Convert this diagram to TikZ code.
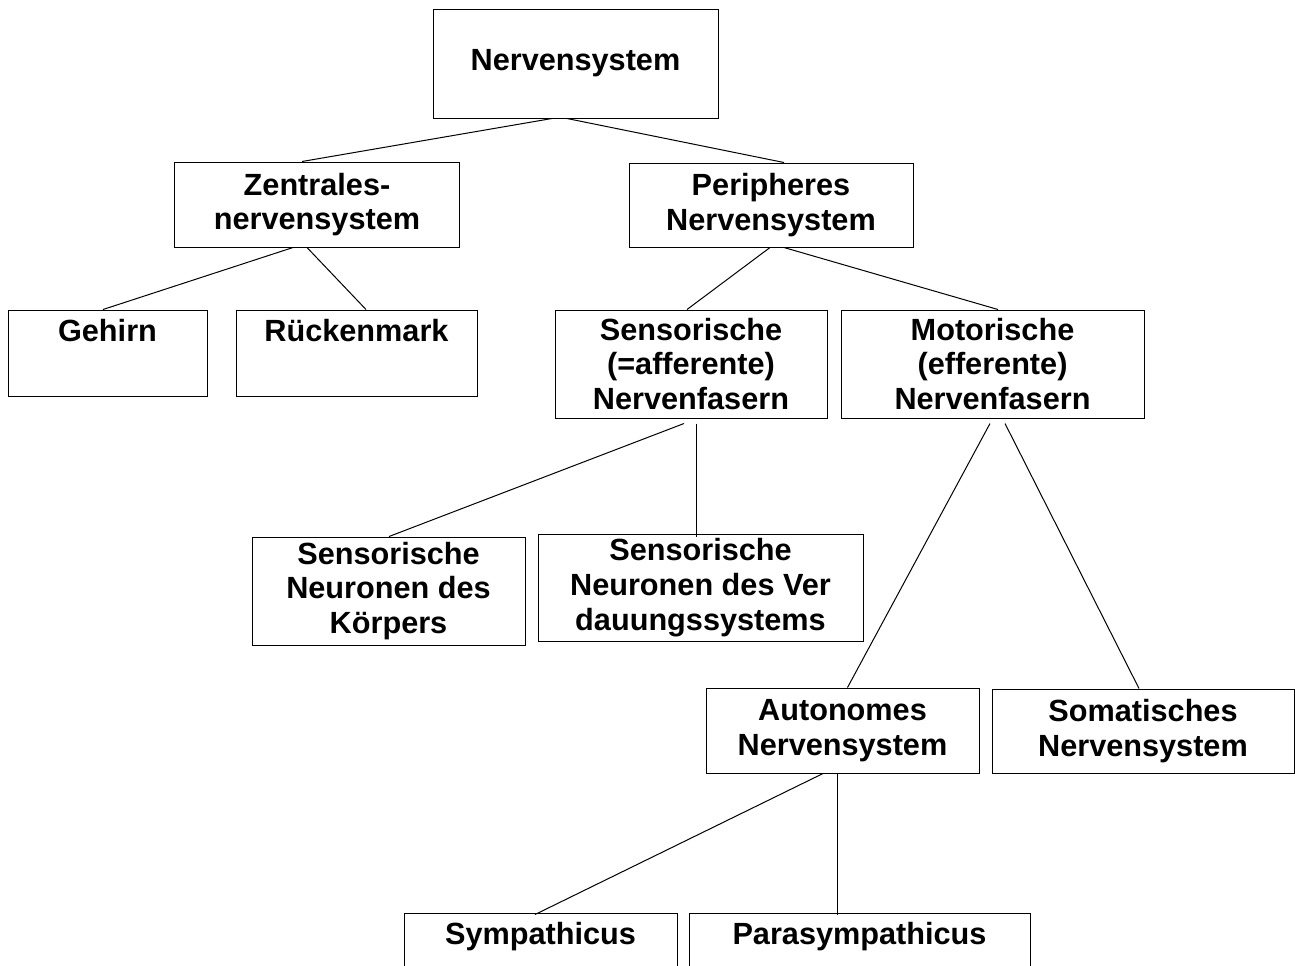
\documentclass[tikz,border=0pt]{standalone}
\usepackage{fontspec}
\setmainfont{Liberation Sans}
\usetikzlibrary{positioning, calc}
\tikzset{
  box/.style 2 args = {draw, rectangle, align=center, inner sep=0pt,
                       line width=0.75pt,
                       minimum width=#1*0.75pt, minimum height=#2*0.75pt,
                       font=\bfseries\fontsize{23}{26}\selectfont},
  con/.style = {line width=0.75pt},
}
\begin{document}
\begin{tikzpicture}[x=0.75pt, y=-0.75pt]
  \useasboundingbox (0,0) rectangle (1295,965);
  \clip (0,0) rectangle (1295,965);
  % boxes, centres in pixels of the original sheet
  \node[box={285}{109}] (nerv)   at (575.5,63.5) {Nervensystem};
  \node[box={285}{85}]  (zns)    at (317,204.5)  {Zentrales-\\nervensystem};
  \node[box={284}{84}]  (pns)    at (771,205)    {Peripheres\\Nervensystem};
  \node[box={199}{86}]  (geh)    at (107.5,353)  {Gehirn\\[8pt]\mbox{}};
  \node[box={241}{86}]  (rm)     at (356.5,353)  {Rückenmark\\[8pt]\mbox{}};
  \node[box={272}{108}] (sens)   at (691,364)    {Sensorische\\(=afferente)\\Nervenfasern};
  \node[box={303}{108}] (mot)    at (992.5,364)  {Motorische\\(efferente)\\Nervenfasern};
  \node[box={273}{108}] (skoerp) at (388.5,591)  {Sensorische\\Neuronen des\\Körpers};
  \node[box={325}{107}] (sverd)  at (700.5,587.5) {Sensorische\\Neuronen des Ver\\dauungssystems};
  \node[box={273}{85}]  (auto)   at (842.5,730.5) {Autonomes\\Nervensystem};
  \node[box={302}{84}]  (soma)   at (1143,731)   {Somatisches\\Nervensystem};
  \node[box={273}{86}]  (symp)   at (540.5,956)  {Sympathicus\\[8pt]\mbox{}};
  \node[box={341}{86}]  (para)   at (859.5,956)  {Parasympathicus\\[8pt]\mbox{}};

  % connectors
  \draw[con] ($(nerv.south)+(-23.5,0)$) -- ($(zns.north)+(-15,0)$);
  \draw[con] ($(nerv.south)+(-8.5,0)$)  -- ($(pns.north)+(13,0)$);
  \draw[con] ($(zns.south)+(-24,0)$) -- ($(geh.north)+(-4.5,0)$);
  \draw[con] ($(zns.south)+(-10,0)$) -- ($(rm.north)+(9.5,0)$);
  \draw[con] ($(pns.south)+(-1,0)$)  -- ($(sens.north)+(-4,0)$);
  \draw[con] ($(pns.south)+(13,0)$)  -- ($(mot.north)+(5.5,0)$);
  \draw[con] ($(sens.south)+(-7,5)$) -- ($(skoerp.north)+(0.5,0)$);
  \draw[con] ($(sens.south)+(5,5)$)  -- ($(sverd.north)+(-4.5,3)$);
  \draw[con] ($(mot.south)+(-2.5,5)$) -- ($(auto.north)+(5,0)$);
  \draw[con] ($(mot.south)+(12.5,5)$) -- ($(soma.north)+(-4,0)$);
  \draw[con] ($(auto.south)+(-19.5,0)$) -- ($(symp.north)+(-5.5,2)$);
  \draw[con] ($(auto.south)+(-5.5,0)$)  -- ($(para.north)+(-22.5,2)$);
\end{tikzpicture}
\end{document}
